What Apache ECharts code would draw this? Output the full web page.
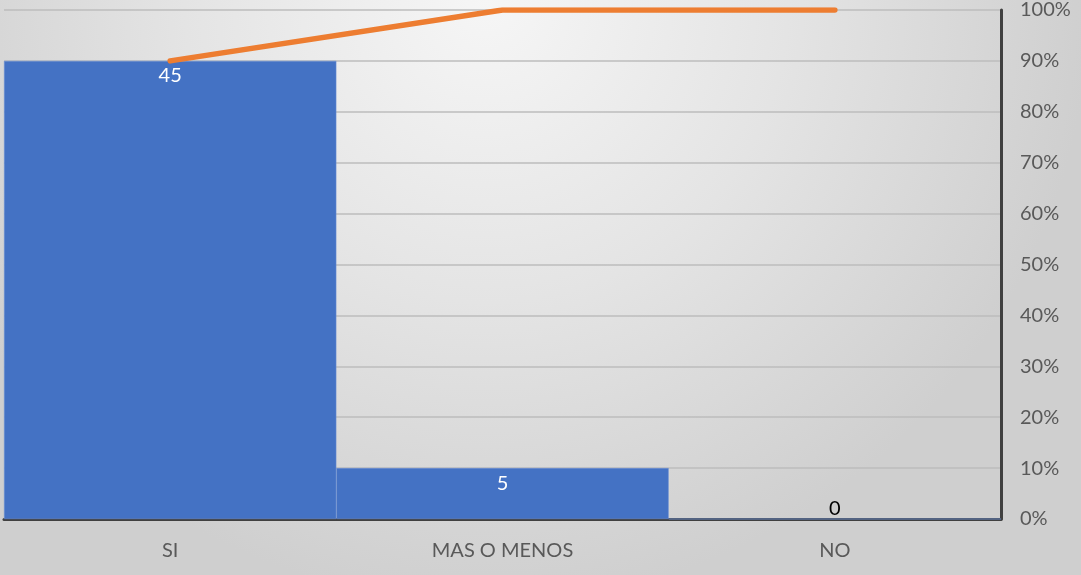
<!DOCTYPE html>
<html>
<head>
<meta charset="utf-8">
<script src="https://cdn.jsdelivr.net/npm/echarts@6/dist/echarts.min.js"></script>
<style>
  html, body { margin: 0; padding: 0; }
  #chart { width: 1081px; height: 575px; }
</style>
</head>
<body>
<div id="chart"></div>
<script>
// Pareto data: counts per answer and the cumulative share
const categories = ['SI', 'MAS O MENOS', 'NO'];
const counts = [45, 5, 0];
const cumulativePct = [90, 100, 100];
const pctTicks = ['0%', '10%', '20%', '30%', '40%', '50%', '60%', '70%', '80%', '90%', '100%'];

const chart = echarts.init(document.getElementById('chart'));

const barData = counts.map(v => v === 0
  ? { value: v, label: { position: 'top', color: '#000000', distance: 0 } }
  : { value: v });

chart.setOption({
  backgroundColor: {
    type: 'radial', x: 0.45, y: 0.0, r: 1.05,
    colorStops: [
      { offset: 0, color: '#f6f6f6' },
      { offset: 0.5, color: '#e4e4e4' },
      { offset: 1, color: '#cfcfcf' }
    ]
  },
  textStyle: { fontFamily: 'Lato, "Open Sans", sans-serif' },
  grid: { left: 4, right: 80, top: 7, bottom: 56 },
  xAxis: {
    type: 'category',
    data: categories,
    axisLine: { show: true, lineStyle: { color: '#404040', width: 3 } },
    axisTick: { show: false },
    axisLabel: { color: '#595959', fontSize: 20, margin: 22 }
  },
  yAxis: [
    {
      type: 'value', min: 0, max: 50, interval: 5,
      show: true,
      axisLabel: { show: false },
      axisLine: { show: false },
      axisTick: { show: false },
      splitLine: { show: false }
    },
    {
      type: 'value', min: 0, max: 100, interval: 10,
      position: 'right',
      axisLine: { show: true, lineStyle: { color: '#404040', width: 3 } },
      axisTick: { show: false },
      axisLabel: {
        color: '#595959', fontSize: 20, margin: 19,
        formatter: v => pctTicks[Math.round(v / 10)]
      },
      splitLine: { show: true, lineStyle: { color: '#bdbdbd', width: 1.5 } }
    }
  ],
  series: [
    {
      type: 'bar',
      yAxisIndex: 0,
      data: barData,
      barCategoryGap: '0%',
      itemStyle: { color: '#4472c4', borderColor: '#6e93d6', borderWidth: 0.5 },
      label: {
        show: true, position: 'insideTop', color: '#ffffff',
        fontSize: 20, distance: 5
      },
      z: 2
    },
    {
      type: 'line',
      yAxisIndex: 1,
      data: cumulativePct,
      showSymbol: false,
      symbol: 'none',
      lineStyle: { color: '#ed7d31', width: 5.5, cap: 'round' },
      z: 3
    }
  ]
});
</script>
</body>
</html>
